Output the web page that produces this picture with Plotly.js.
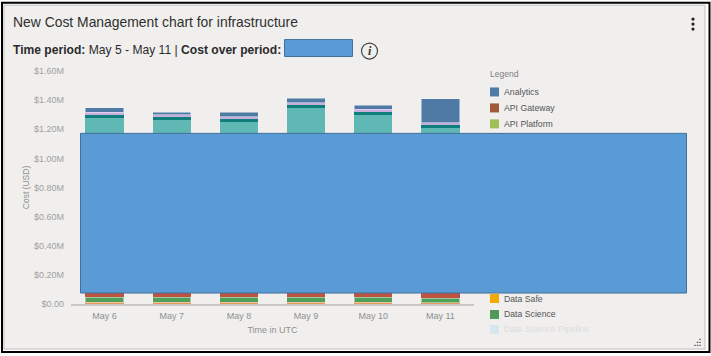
<!DOCTYPE html>
<html><head><meta charset="utf-8">
<script src="https://cdn.plot.ly/plotly-3.0.1.min.js"></script>
<style>html,body{margin:0;padding:0;background:#fff;overflow:hidden}</style>
</head><body><div id="chart" style="width:711px;height:356px"></div>
<script>
const days = ['May 6','May 7','May 8','May 9','May 10','May 11'];
const dataSafe = [0.012,0.012,0.012,0.012,0.012,0.010];
const dataScience = [0.033,0.033,0.033,0.033,0.033,0.028];
const lowerHidden = [0.050,0.050,0.050,0.050,0.050,0.050];
const tealSeries = [1.185,1.169,1.155,1.253,1.203,1.120];
const darkTeal = [0.018,0.018,0.018,0.018,0.020,0.020];
const lilac = [0.018,0.016,0.018,0.016,0.018,0.016];
const analytics = [0.030,0.020,0.030,0.032,0.028,0.164];
const yTicks = [0,0.2,0.4,0.6,0.8,1.0,1.2,1.4,1.6];
const yLabels = ['$0.00','$0.20M','$0.40M','$0.60M','$0.80M','$1.00M','$1.20M','$1.40M','$1.60M'];
const legendNames = ['Analytics','API Gateway','API Platform','Data Safe','Data Science','Data Science Pipeline'];
const legendColors = ['#4f7aa6','#a05a36','#9dbf56','#f5a800','#4f9a57','#d6e7ee'];
const legendRows = [92,108,124,299,315,330];

const W=711,H=356,ML=71,MR=237,MT=71,MB=51.5;
const px=x=>(x-ML)/(W-ML-MR), py=y=>1-(y-MT)/(H-MT-MB);
const rect=(x0,y0,x1,y1,fill,line,lw,layer)=>({type:'rect',xref:'paper',yref:'paper',x0:px(x0),x1:px(x1),y0:py(y0),y1:py(y1),fillcolor:fill,line:{color:line||fill,width:lw===undefined?0:lw},layer:layer||'above'});
const circ=(cx,cy,r,fill,line,lw)=>({type:'circle',xref:'paper',yref:'paper',x0:px(cx-r),x1:px(cx+r),y0:py(cy+r),y1:py(cy-r),fillcolor:fill,line:{color:line||fill,width:lw||0},layer:'above'});
const note=(x,y,text,size,color,extra)=>Object.assign({xref:'paper',yref:'paper',x:px(x),y:py(y),text,showarrow:false,xanchor:'left',yanchor:'middle',font:{family:'Liberation Sans, Arial, sans-serif',size,color}},extra||{});

const bar=(name,y,color,lw)=>({type:'bar',name,x:days,y,marker:{color,line:{color:'rgba(245,245,245,0.8)',width:lw||0}},hoverinfo:'name+y'});
const traces=[
 bar('Data Safe',dataSafe,'#e59a5a'),
 bar('Data Science',dataScience,'#4f9f58',0.6),
 bar('Service (covered)',lowerHidden,'#c0533f'),
 bar('Service (teal)',tealSeries,'#5fb8b3'),
 bar('Service (dark teal)',darkTeal,'#0e7f7a'),
 bar('Service (lilac)',lilac,'#c9aee0'),
 bar('Analytics',analytics,'#4f7aa6',0.6)
];

const shapes=[
 rect(2,2.5,709.5,352.5,'#ffffff','#000000',2,'below'),
 rect(4,5,705,349.5,'#f0efee','#d2d0ce',1.5,'below'),
 rect(284.5,39.5,352.5,56.5,'#5b9bd5','#41719c',1),
 circ(369.5,51,8,'rgba(0,0,0,0)','#444444',1.2),
 circ(693,19,1.6,'#222222'),circ(693,24,1.6,'#222222'),circ(693,29,1.6,'#222222'),
 rect(80.5,133.5,686.5,293.5,'#5b9bd5','#41719c',1)
];
legendNames.forEach((n,i)=>shapes.push(rect(490,legendRows[i]-4.5,499,legendRows[i]+4.5,legendColors[i])));
[[700,340],[697.5,343],[700,343],[695,346],[697.5,346],[700,346]].forEach(p=>shapes.push(rect(p[0]-.7,p[1]-.7,p[0]+.7,p[1]+.7,'#555555')));

const annotations=[
 note(11,49.5,'<b>Time period:</b> May 5 - May 11 | <b>Cost over period:</b>',12.1,'#2b2b2b'),
 note(369.5,51,'<b><i>i</i></b>',11,'#333333',{xanchor:'center',font:{family:'Liberation Serif, serif',size:12,color:'#333333'}}),
 note(488,74,'Legend',8.5,'#808080')
];
legendNames.forEach((n,i)=>annotations.push(note(502,legendRows[i],n,8.7,i===5?'#dcdcdc':'#555555')));

const layout={
 width:W,height:H,autosize:false,barmode:'stack',bargap:0.43,showlegend:false,
 margin:{l:ML,r:MR,t:MT,b:MB,pad:0},
 paper_bgcolor:'#ffffff',plot_bgcolor:'rgba(0,0,0,0)',
 font:{family:'Liberation Sans, Arial, sans-serif',size:9,color:'#8f8f8f'},
 title:{text:'New Cost Management chart for infrastructure',x:13/W,xref:'container',xanchor:'left',y:1-22/H,yref:'container',yanchor:'middle',font:{family:'Liberation Sans, Arial, sans-serif',size:13.9,color:'#2f2f2f'}},
 xaxis:{type:'category',layer:'below traces',showgrid:false,zeroline:false,showline:true,linecolor:'#c8c8c8',linewidth:2,ticks:'',tickfont:{size:9,color:'#8f8f8f'},ticklabelstandoff:2,title:{text:'Time in UTC',font:{size:9,color:'#8f8f8f'},standoff:7}},
 yaxis:{range:[0,1.6],showgrid:false,zeroline:false,showline:false,ticks:'',tickmode:'array',tickvals:yTicks,ticktext:yLabels,tickfont:{size:9,color:'#a0a0a0'},ticklabelstandoff:6,title:{text:'Cost (USD)',font:{size:8.5,color:'#8f8f8f'},standoff:2}},
 shapes,annotations
};
Plotly.newPlot('chart',traces,layout,{displayModeBar:false,responsive:false});
</script></body></html>
